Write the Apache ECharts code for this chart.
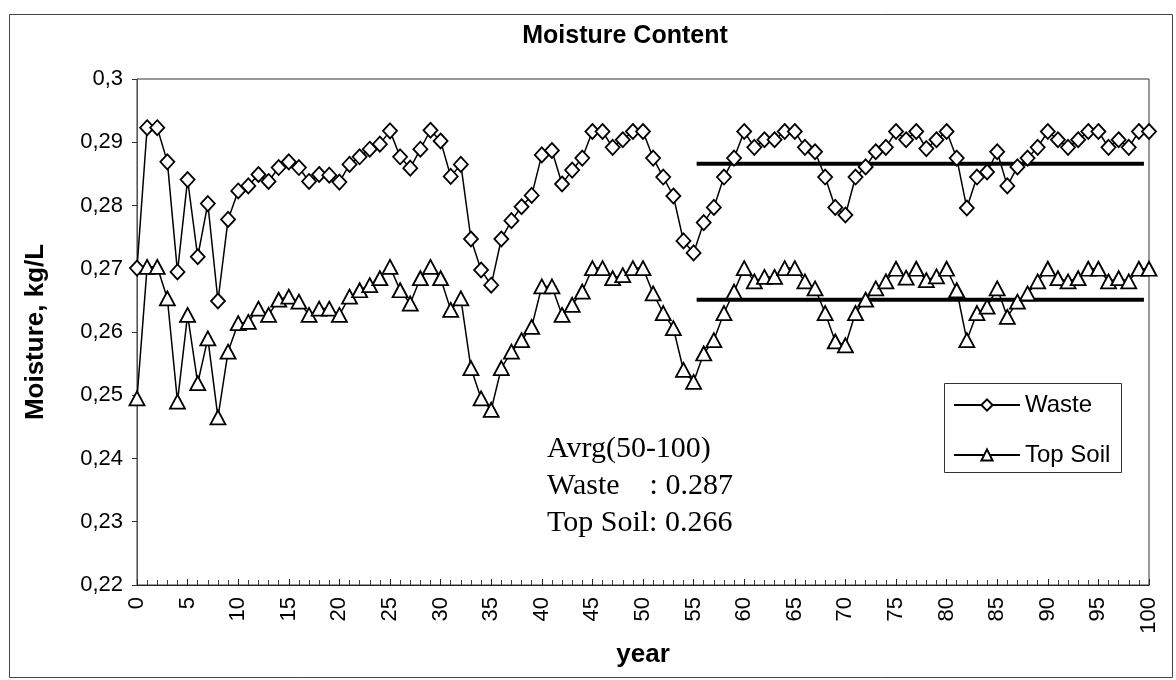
<!DOCTYPE html>
<html>
<head>
<meta charset="utf-8">
<script src="https://cdn.jsdelivr.net/npm/echarts@6/dist/echarts.min.js"></script>
<style>
html,body{margin:0;padding:0;background:#fff;}
#chart{width:1176px;height:680px;}
</style>
</head>
<body>
<div id="chart"></div>
<script>
// ---- data ----
const years = [];
for (let i = 0; i <= 100; i++) years.push(i);

const waste = [
0.2701,0.2923,0.2923,0.2869,0.2695,0.2841,0.2719,0.2803,0.2649,0.2778,
0.2823,0.2831,0.2849,0.2838,0.2860,0.2869,0.2860,0.2838,0.2849,0.2848,
0.2837,0.2865,0.2877,0.2889,0.2897,0.2918,0.2877,0.2859,0.2889,0.2919,
0.2902,0.2846,0.2865,0.2747,0.2698,0.2674,0.2747,0.2776,0.2798,0.2816,
0.2880,0.2887,0.2834,0.2856,0.2875,0.2917,0.2917,0.2892,0.2904,0.2917,
0.2917,0.2875,0.2845,0.2815,0.2744,0.2725,0.2773,0.2797,0.2845,0.2875,
0.2917,0.2892,0.2904,0.2904,0.2917,0.2917,0.2892,0.2885,0.2845,0.2797,
0.2785,0.2845,0.2861,0.2885,0.2892,0.2917,0.2904,0.2917,0.2890,0.2904,
0.2917,0.2875,0.2796,0.2845,0.2853,0.2885,0.2831,0.2861,0.2875,0.2892,
0.2917,0.2904,0.2892,0.2904,0.2917,0.2917,0.2892,0.2904,0.2892,0.2917,
0.2917
];

const topSoil = [
0.2495,0.2703,0.2703,0.2653,0.2490,0.2627,0.2519,0.2590,0.2465,0.2569,
0.2614,0.2616,0.2637,0.2627,0.2651,0.2656,0.2648,0.2627,0.2637,0.2637,
0.2627,0.2656,0.2666,0.2674,0.2685,0.2703,0.2666,0.2645,0.2685,0.2703,
0.2685,0.2635,0.2653,0.2543,0.2495,0.2477,0.2543,0.2569,0.2587,0.2608,
0.2672,0.2672,0.2627,0.2643,0.2664,0.2701,0.2701,0.2685,0.2690,0.2701,
0.2701,0.2661,0.2630,0.2606,0.2540,0.2521,0.2566,0.2587,0.2630,0.2664,
0.2701,0.2680,0.2687,0.2687,0.2701,0.2701,0.2680,0.2669,0.2630,0.2585,
0.2579,0.2630,0.2651,0.2669,0.2680,0.2700,0.2686,0.2700,0.2682,0.2688,
0.2700,0.2666,0.2587,0.2630,0.2640,0.2669,0.2624,0.2648,0.2661,0.2680,
0.2700,0.2685,0.2680,0.2685,0.2700,0.2700,0.2680,0.2685,0.2680,0.2700,
0.2700
];

const avgRange = [55.3, 99.5];
const avgWaste = 0.2866;
const avgTopSoil = 0.2651;

const yTicks = [0.22, 0.23, 0.24, 0.25, 0.26, 0.27, 0.28, 0.29, 0.30];
const noteLines = ['Avrg(50-100)', 'Waste    : 0.287', 'Top Soil: 0.266'];

// ---- chart ----
const chart = echarts.init(document.getElementById('chart'), null, {renderer: 'canvas'});

const ser = (arr) => years.map((x, i) => [x, arr[i]]);

const markerStyle = {color: '#fff', borderColor: '#000', borderWidth: 1.8};

const option = {
  backgroundColor: '#fff',
  animation: false,
  title: {
    text: 'Moisture Content',
    left: 620,
    textAlign: 'center',
    top: 19,
    textStyle: {fontFamily: 'Liberation Sans, Arial, sans-serif', fontWeight: 'bold', fontSize: 25, color: '#000'}
  },
  grid: {
    left: 137, right: 27, top: 79, bottom: 95,
    show: true, borderColor: '#333', borderWidth: 1, backgroundColor: 'transparent'
  },
  legend: {
    data: ['Waste', 'Top Soil'],
    orient: 'vertical',
    left: 953,
    top: 393,
    padding: 0,
    itemWidth: 66,
    itemHeight: 14,
    itemGap: 26,
    textStyle: {fontFamily: 'Liberation Sans, Arial, sans-serif', fontSize: 24, color: '#000', lineHeight: 24}
  },
  xAxis: {
    type: 'value',
    min: 0, max: 100, interval: 5,
    name: 'year',
    nameLocation: 'middle',
    nameGap: 52,
    nameTextStyle: {fontFamily: 'Liberation Sans, Arial, sans-serif', fontWeight: 'bold', fontSize: 26, color: '#000'},
    axisLine: {show: true, onZero: false, lineStyle: {color: '#222', width: 1}},
    axisTick: {show: true, inside: true, length: 6, lineStyle: {color: '#222'}},
    minorTick: {show: true, splitNumber: 5, length: 5, lineStyle: {color: '#444'}},
    splitLine: {show: false},
    axisLabel: {
      rotate: 90, margin: 12,
      fontFamily: 'Liberation Sans, Arial, sans-serif', fontSize: 22, color: '#000'
    }
  },
  yAxis: {
    type: 'value',
    min: yTicks[0], max: yTicks[yTicks.length - 1], interval: 0.01,
    name: 'Moisture, kg/L',
    nameLocation: 'middle',
    nameGap: 88,
    nameTextStyle: {fontFamily: 'Liberation Sans, Arial, sans-serif', fontWeight: 'bold', fontSize: 26, color: '#000'},
    axisLine: {show: true, lineStyle: {color: '#555', width: 1}},
    axisTick: {show: true, inside: false, length: 5, lineStyle: {color: '#333'}},
    splitLine: {show: false},
    axisLabel: {
      margin: 14,
      fontFamily: 'Liberation Sans, Arial, sans-serif', fontSize: 22, color: '#000',
      formatter: (v) => String(+v.toFixed(2)).replace('.', ',')
    }
  },
  graphic: [
    {type: 'rect', left: 7, top: 12, shape: {width: 1163, height: 663},
     style: {fill: 'none', stroke: '#444', lineWidth: 1}, silent: true, z: -10},
    {type: 'rect', left: 944, top: 383, shape: {width: 177, height: 89},
     style: {fill: '#fff', stroke: '#333', lineWidth: 1}, silent: true, z: 1},
    {type: 'text', left: 547, top: 431, z: 5,
     style: {text: noteLines.join('\n'), fill: '#000',
             font: '30px "Liberation Serif", "Times New Roman", serif', lineHeight: 37}}
  ],
  series: [
    {
      name: 'avgWaste', type: 'line', symbol: 'none', silent: true, z: 1,
      data: [[avgRange[0], avgWaste], [avgRange[1], avgWaste]],
      lineStyle: {color: '#000', width: 4}
    },
    {
      name: 'avgTopSoil', type: 'line', symbol: 'none', silent: true, z: 1,
      data: [[avgRange[0], avgTopSoil], [avgRange[1], avgTopSoil]],
      lineStyle: {color: '#000', width: 4}
    },
    {
      name: 'Waste', type: 'line', data: ser(waste), z: 3,
      symbol: 'diamond', symbolSize: [14, 15],
      lineStyle: {color: '#000', width: 1.5},
      itemStyle: markerStyle
    },
    {
      name: 'Top Soil', type: 'line', data: ser(topSoil), z: 3,
      symbol: 'triangle', symbolSize: [15, 14],
      lineStyle: {color: '#000', width: 1.5},
      itemStyle: markerStyle
    }
  ]
};

chart.setOption(option);
</script>
</body>
</html>
